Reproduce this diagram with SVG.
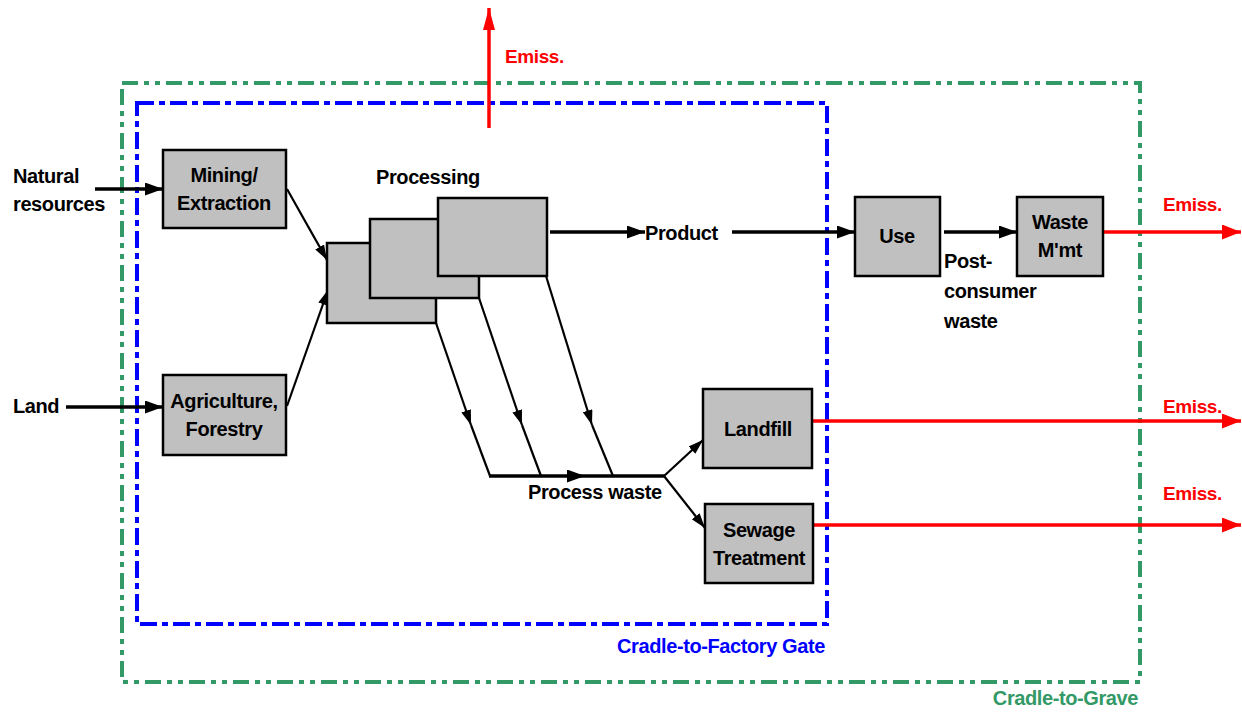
<svg xmlns="http://www.w3.org/2000/svg" width="1242" height="713" viewBox="0 0 1242 713">
<defs>
<style>
.t{font-family:"Liberation Sans",Arial,sans-serif;font-weight:bold;font-size:20px;fill:#000;letter-spacing:-0.4px}
.r{fill:#ff0000;font-size:19px}
.box{fill:#c0c0c0;stroke:#000;stroke-width:2.5}
.ln{fill:none;stroke:#000;stroke-width:3.5}
.thin{fill:none;stroke:#000;stroke-width:2.2}
.red{fill:none;stroke:#ff0000;stroke-width:3.5}
</style>
<marker id="ab" markerUnits="userSpaceOnUse" markerWidth="20" markerHeight="14" refX="18" refY="6.5" orient="auto"><path d="M0,0 L18,6.5 L0,13 z" fill="#000"/></marker>
<marker id="as" markerUnits="userSpaceOnUse" markerWidth="18" markerHeight="12" refX="15" refY="5" orient="auto"><path d="M0,0 L15,5 L0,10 z" fill="#000"/></marker>
<marker id="ar" markerUnits="userSpaceOnUse" markerWidth="20" markerHeight="16" refX="19" refY="7.5" orient="auto"><path d="M0,0 L19,7.5 L0,15 z" fill="#ff0000"/></marker>
<marker id="arv" markerUnits="userSpaceOnUse" markerWidth="24" markerHeight="14" refX="22" refY="6" orient="auto"><path d="M0,0 L22,6 L0,12 z" fill="#ff0000"/></marker>
</defs>
<rect width="1242" height="713" fill="#fff"/>

<g id="boundaries">
<rect x="122" y="83" width="1018" height="599" fill="none" stroke="#339966" stroke-width="4" stroke-dasharray="16 6 5 6 5 6"/>
<rect x="137" y="103" width="690" height="521" fill="none" stroke="#0000ff" stroke-width="4" stroke-dasharray="17 5 6 5"/>
<text class="t" x="825" y="653" text-anchor="end" style="fill:#0000ff">Cradle-to-Factory Gate</text>
<text class="t" x="1138" y="705" text-anchor="end" style="fill:#339966">Cradle-to-Grave</text>
</g>

<g id="connectors">
<line class="ln" x1="95" y1="189" x2="163" y2="189" marker-end="url(#ab)"/>
<line class="ln" x1="66" y1="407" x2="163" y2="407" marker-end="url(#ab)"/>
<line class="thin" x1="287" y1="189" x2="327" y2="260" marker-end="url(#as)"/>
<line class="thin" x1="287" y1="406" x2="328" y2="290" marker-end="url(#as)"/>
<line class="ln" x1="550" y1="232" x2="645" y2="232" marker-end="url(#ab)"/>
<line class="ln" x1="732" y1="232" x2="855" y2="232" marker-end="url(#ab)"/>
<line class="ln" x1="944" y1="232" x2="1017" y2="232" marker-end="url(#ab)"/>
<line class="thin" x1="436" y1="323" x2="471" y2="425" marker-end="url(#as)"/>
<line class="thin" x1="471" y1="425" x2="490" y2="476"/>
<line class="thin" x1="479" y1="298" x2="522" y2="425" marker-end="url(#as)"/>
<line class="thin" x1="522" y1="425" x2="541" y2="476"/>
<line class="thin" x1="546" y1="276" x2="592" y2="425" marker-end="url(#as)"/>
<line class="thin" x1="592" y1="425" x2="613" y2="476"/>
<line class="ln" x1="489" y1="476" x2="585" y2="476" marker-end="url(#ab)"/>
<line class="ln" x1="585" y1="476" x2="665" y2="476"/>
<line class="thin" x1="664" y1="476" x2="703" y2="440" marker-end="url(#as)"/>
<line class="thin" x1="664" y1="476" x2="705" y2="528" marker-end="url(#as)"/>
<line class="red" x1="489" y1="128" x2="489" y2="8" marker-end="url(#arv)"/>
<line class="red" x1="1103" y1="232" x2="1241" y2="232" marker-end="url(#ar)"/>
<line class="red" x1="812" y1="421" x2="1241" y2="421" marker-end="url(#ar)"/>
<line class="red" x1="810" y1="525" x2="1241" y2="525" marker-end="url(#ar)"/>
<text class="t" x="528" y="499">Process waste</text>
<text class="t" x="645" y="240">Product</text>
<text class="t" x="944" y="268">Post-</text>
<text class="t" x="944" y="298">consumer</text>
<text class="t" x="944" y="328">waste</text>
<text class="t r" x="505" y="63">Emiss.</text>
<text class="t r" x="1163" y="211">Emiss.</text>
<text class="t r" x="1163" y="413">Emiss.</text>
<text class="t r" x="1163" y="500">Emiss.</text>
</g>

<g id="inputs">
<text class="t" x="13" y="183">Natural</text>
<text class="t" x="13" y="211">resources</text>
<text class="t" x="13" y="413">Land</text>
</g>

<g id="mining">
<rect class="box" x="163" y="150" width="123" height="78"/>
<text class="t" x="224" y="182" text-anchor="middle">Mining/</text>
<text class="t" x="224" y="210" text-anchor="middle">Extraction</text>
</g>

<g id="agriculture">
<rect class="box" x="163" y="375" width="123" height="80"/>
<text class="t" x="224" y="408" text-anchor="middle">Agriculture,</text>
<text class="t" x="224" y="436" text-anchor="middle">Forestry</text>
</g>

<g id="processing">
<text class="t" x="376" y="184">Processing</text>
<rect class="box" x="327" y="243" width="109" height="80"/>
<rect class="box" x="370" y="219" width="109" height="79"/>
<rect class="box" x="438" y="198" width="109" height="78"/>
</g>

<g id="use">
<rect class="box" x="855" y="197" width="85" height="79"/>
<text class="t" x="897" y="243" text-anchor="middle">Use</text>
</g>

<g id="waste-mgmt">
<rect class="box" x="1017" y="197" width="86" height="79"/>
<text class="t" x="1060" y="229" text-anchor="middle">Waste</text>
<text class="t" x="1060" y="257" text-anchor="middle">M'mt</text>
</g>

<g id="landfill">
<rect class="box" x="703" y="389" width="109" height="79"/>
<text class="t" x="758" y="436" text-anchor="middle">Landfill</text>
</g>

<g id="sewage">
<rect class="box" x="705" y="504" width="108" height="79"/>
<text class="t" x="759" y="537" text-anchor="middle">Sewage</text>
<text class="t" x="759" y="565" text-anchor="middle">Treatment</text>
</g>
</svg>
